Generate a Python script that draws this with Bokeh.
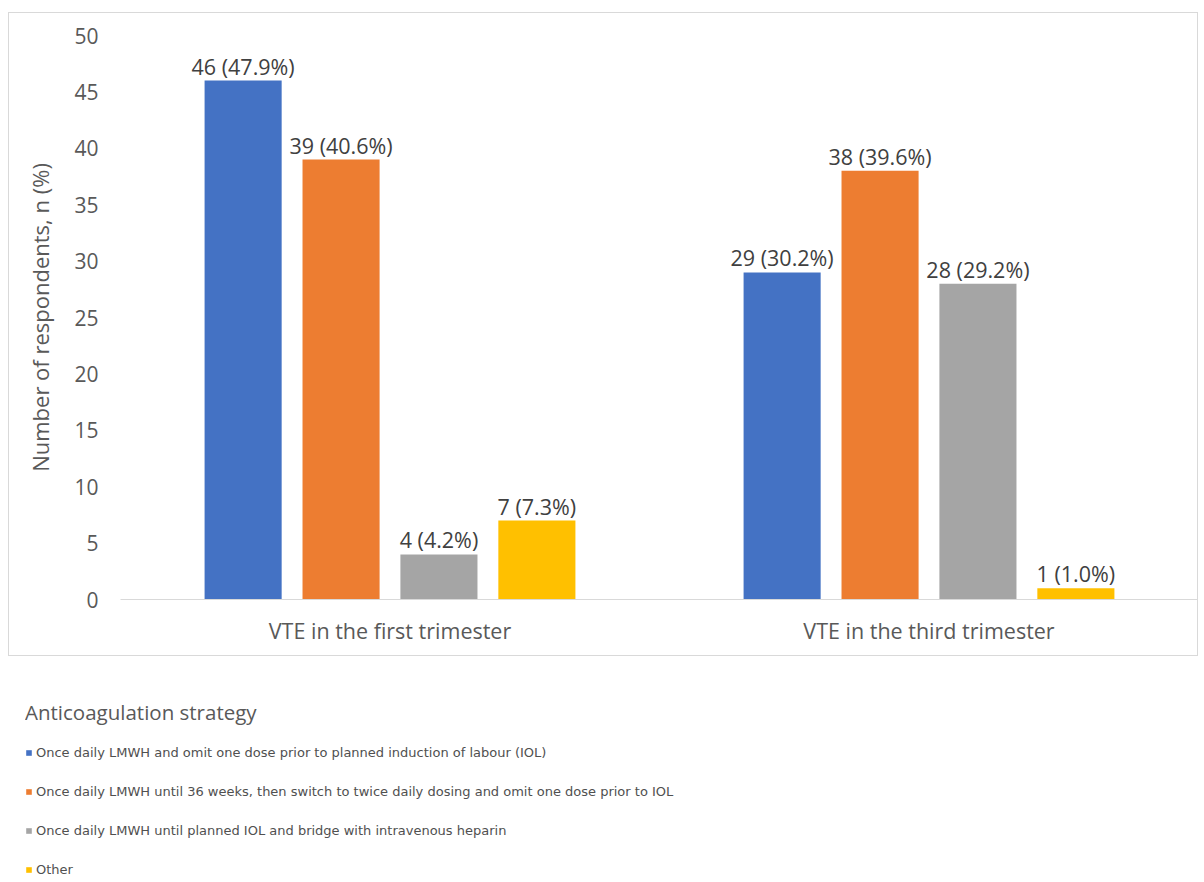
from bokeh.plotting import figure
from bokeh.models import FactorRange, ColumnDataSource, Legend, LegendItem, Range1d, FixedTicker
from bokeh.transform import dodge
from bokeh.layouts import column
from bokeh.embed import file_html
from bokeh.resources import INLINE
from bokeh.core.properties import value

categories = ["VTE in the first trimester", "VTE in the third trimester"]
series_names = [
    "Once daily LMWH and omit one dose prior to planned induction of labour (IOL)",
    "Once daily LMWH until 36 weeks, then switch to twice daily dosing and omit one dose prior to IOL",
    "Once daily LMWH until planned IOL and bridge with intravenous heparin",
    "Other",
]
counts_first = [46, 39, 4, 7]
counts_third = [29, 38, 28, 1]
pct_first = [47.9, 40.6, 4.2, 7.3]
pct_third = [30.2, 39.6, 29.2, 1.0]
colors = ["#4472C4", "#ED7D31", "#A5A5A5", "#FFC000"]
y_ticks = [0, 5, 10, 15, 20, 25, 30, 35, 40, 45, 50]
legend_title = "Anticoagulation strategy"
y_label = "Number of respondents, n (%)"

FONT = "Open Sans"
offsets = [-0.2725, -0.0908, 0.0908, 0.2725]
bar_w = 0.143

p = figure(width=1190, height=644, x_range=FactorRange(factors=categories),
           y_range=Range1d(0, 50), toolbar_location=None, output_backend="svg",
           min_border_left=111, min_border_right=1, min_border_top=22, min_border_bottom=58)
p.margin = (12, 0, 0, 8)
p.styles = {"border": "1px solid #d9d9d9"}
p.outline_line_color = None
p.xgrid.grid_line_color = None
p.ygrid.grid_line_color = None

for i in range(4):
    src = ColumnDataSource(dict(
        x=categories,
        top=[counts_first[i], counts_third[i]],
        label=[f"{counts_first[i]} ({pct_first[i]:.1f}%)", f"{counts_third[i]} ({pct_third[i]:.1f}%)"],
    ))
    p.vbar(x=dodge("x", offsets[i], range=p.x_range), top="top", width=bar_w, source=src,
           fill_color=colors[i], line_color=None)
    p.text(x=dodge("x", offsets[i], range=p.x_range), y="top", text="label", source=src,
           text_align="center", text_baseline="bottom", y_offset=0,
           text_font=value(FONT), text_font_size="21.5px", text_color="#404040")

p.yaxis.ticker = FixedTicker(ticks=y_ticks)
p.yaxis.axis_line_color = None
p.yaxis.major_tick_line_color = None
p.yaxis.minor_tick_line_color = None
p.yaxis.major_tick_out = 0
p.yaxis.major_label_standoff = 22
p.yaxis.major_label_text_font = FONT
p.yaxis.major_label_text_font_size = "21px"
p.yaxis.major_label_text_color = "#595959"
p.yaxis.axis_label = y_label
p.yaxis.axis_label_text_font = FONT
p.yaxis.axis_label_text_font_size = "22px"
p.yaxis.axis_label_text_font_style = "normal"
p.yaxis.axis_label_text_color = "#595959"
p.yaxis.axis_label_standoff = 16

p.xaxis.axis_line_color = "#d9d9d9"
p.xaxis.axis_line_width = 1
p.xaxis.major_tick_line_color = None
p.xaxis.minor_tick_line_color = None
p.xaxis.major_tick_out = 0
p.xaxis.major_label_standoff = 16
p.xaxis.major_label_text_font = FONT
p.xaxis.major_label_text_font_size = "21.5px"
p.xaxis.major_label_text_color = "#595959"

# legend panel
p2 = figure(width=1100, height=224, x_range=Range1d(0, 1), y_range=Range1d(0, 1),
            toolbar_location=None, output_backend="svg",
            x_axis_location=None, y_axis_location=None,
            min_border_left=111, min_border_top=42, min_border_bottom=0, min_border_right=0)
p2.margin = (0, 0, 0, -86)
p2.xgrid.grid_line_color = None
p2.ygrid.grid_line_color = None
p2.outline_line_color = None
items = []
for i in range(4):
    r = p2.vbar(x=[-10], top=[-10], bottom=[-11], width=0.1, fill_color=colors[i], line_color=None)
    items.append(LegendItem(label=series_names[i], renderers=[r]))
leg = Legend(items=items, location="top_left", margin=0, padding=0,
             border_line_color=None, background_fill_alpha=0,
             title=legend_title, title_text_font=FONT, title_text_font_size="20.5px",
             title_text_font_style="normal", title_text_color="#595959", title_standoff=16,
             label_text_font="DejaVu Sans", label_text_font_size="13px", label_text_color="#505050",
             label_height=20, glyph_height=7, glyph_width=7, label_standoff=4, spacing=19)
p2.add_layout(leg)

layout = column(p, p2, spacing=0)
open("out.html", "w").write(file_html(layout, INLINE))
